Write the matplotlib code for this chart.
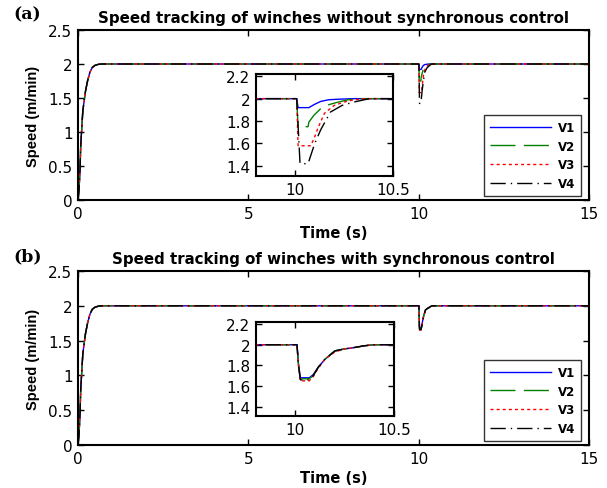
import numpy as np
import matplotlib
matplotlib.use("Agg")
import matplotlib.pyplot as plt

# ── Data ───────────────────────────────────────────────────────────────────
# start-up transient, shared by all winches
t_start = [0, 0.03, 0.06, 0.08, 0.11, 0.14, 0.17, 0.22, 0.28, 0.35, 0.42, 0.5, 0.6, 0.7, 0.8]
v_start = [0, 0.15, 0.45, 0.8, 1.05, 1.3, 1.42, 1.6, 1.75, 1.88, 1.95, 1.98, 1.995, 2.0, 2.0]

# disturbance at t = 10 s, without synchronous control
t_dip_a = {
    "V1": [10.0, 10.008, 10.015, 10.07, 10.1, 10.13, 10.17, 10.22, 10.3],
    "V2": [10.0, 10.008, 10.015, 10.066, 10.07, 10.095, 10.13, 10.17, 10.21, 10.27, 10.35],
    "V3": [10.0, 10.008, 10.015, 10.08, 10.1, 10.117, 10.15, 10.2, 10.25, 10.3, 10.36],
    "V4": [10.0, 10.008, 10.025, 10.066, 10.1, 10.13, 10.18, 10.24, 10.3, 10.38],
}
v_dip_a = {
    "V1": [2.0, 2.0, 1.92, 1.92, 1.95, 1.975, 1.99, 1.995, 2.0],
    "V2": [2.0, 2.0, 1.75, 1.75, 1.79, 1.85, 1.91, 1.945, 1.965, 1.99, 2.0],
    "V3": [2.0, 2.0, 1.58, 1.58, 1.66, 1.74, 1.87, 1.94, 1.97, 1.99, 2.0],
    "V4": [2.0, 2.0, 1.42, 1.42, 1.6, 1.72, 1.88, 1.94, 1.97, 2.0],
}

# disturbance at t = 10 s, with synchronous control
t_dip_b = [10.0, 10.008, 10.015, 10.025, 10.07, 10.09, 10.115, 10.15, 10.2, 10.25, 10.29, 10.35, 10.4]
v_dip_b = {
    "V1": [2.0, 2.0, 1.82, 1.68, 1.68, 1.71, 1.78, 1.86, 1.94, 1.96, 1.97, 1.99, 2.0],
    "V2": [2.0, 2.0, 1.82, 1.67, 1.67, 1.70, 1.78, 1.86, 1.94, 1.96, 1.97, 1.99, 2.0],
    "V3": [2.0, 2.0, 1.80, 1.65, 1.65, 1.69, 1.77, 1.86, 1.93, 1.96, 1.97, 1.99, 2.0],
    "V4": [2.0, 2.0, 1.81, 1.66, 1.66, 1.70, 1.78, 1.86, 1.94, 1.96, 1.97, 1.99, 2.0],
}

t_end = 15.0
names  = ["V1", "V2", "V3", "V4"]
colors = {"V1": "#0000ff", "V2": "#008000", "V3": "#ff0000", "V4": "#000000"}
styles = {"V1": "-", "V2": (0, (18, 6)), "V3": (0, (2.2, 2.2)), "V4": (0, (11, 3.6, 1, 3.6))}

plt.rcParams["font.family"] = ["DejaVu Sans"]

W, H = 607, 489
fig = plt.figure(figsize=(W / 100, H / 100), dpi=100)


def box(l, r, t, b):
    return [l / W, (H - b) / H, (r - l) / W, (b - t) / H]


def series(name, t_dip, v_dip):
    t = t_start + t_dip + [t_end]
    v = v_start + v_dip + [2.0]
    return t, v


def style_axes(ax):
    ax.tick_params(direction="in", top=True, right=True, labelsize=11,
                   length=4, width=1, pad=4)
    for s in ax.spines.values():
        s.set_linewidth(1.5)


def panel(main_box, inset_box, leg_box, title, tag, tag_y, dips):
    ax = fig.add_axes(box(*main_box))
    for n in names:
        t, v = series(n, *dips[n])
        ax.plot(t, v, color=colors[n], linestyle=styles[n], linewidth=1.0, label=n)
    ax.set_xlim(0, 15)
    ax.set_ylim(0, 2.5)
    ax.set_xticks([0, 5, 10, 15])
    ax.set_yticks([0, 0.5, 1, 1.5, 2, 2.5])
    ax.set_yticklabels(["0", "0.5", "1", "1.5", "2", "2.5"])
    style_axes(ax)
    ax.set_xlabel("Time (s)", fontsize=10.5, fontweight="bold", labelpad=3)
    ax.set_ylabel("Speed (m/min)", family=["Liberation Sans", "DejaVu Sans"],
                  fontsize=10.5, fontweight="bold", labelpad=6)
    ax.set_title(title, fontsize=10.8, fontweight="bold", pad=6)
    fig.text(13 / W, 1 - tag_y / H, tag, family=["DejaVu Serif"],
             fontsize=12.5, fontweight="bold", va="center")

    l, r, t, b = leg_box
    leg = ax.legend(loc="center", bbox_to_anchor=((l + r) / 2 / W, 1 - (t + b) / 2 / H),
                    bbox_transform=fig.transFigure, fancybox=False,
                    edgecolor="#333333", framealpha=1, handlelength=5.2,
                    labelspacing=0.5, borderpad=0.5, handletextpad=0.6,
                    borderaxespad=0, prop={"weight": "bold", "size": 8.5})
    leg.get_frame().set_linewidth(1.0)

    ins = fig.add_axes(box(*inset_box))
    for n in names:
        t, v = series(n, *dips[n])
        ins.plot(t, v, color=colors[n], linestyle=styles[n], linewidth=1.0)
    ins.set_xlim(9.8, 10.5)
    ins.set_ylim(1.31, 2.22)
    ins.set_xticks([10, 10.5])
    ins.set_xticklabels(["10", "10.5"])
    ins.set_yticks([1.4, 1.6, 1.8, 2.0, 2.2])
    ins.set_yticklabels(["1.4", "1.6", "1.8", "2", "2.2"])
    style_axes(ins)
    return ax


dips_a = {n: (t_dip_a[n], v_dip_a[n]) for n in names}
dips_b = {n: (t_dip_b, v_dip_b[n]) for n in names}

panel((78, 589, 31, 201), (256, 393, 75, 177), (483, 582, 117, 196),
      "Speed tracking of winches without synchronous control", "(a)", 15, dips_a)
panel((78, 589, 272, 446), (256, 394, 323, 417), (483, 582, 363, 440),
      "Speed tracking of winches with synchronous control", "(b)", 257, dips_b)

fig.savefig("out.png", dpi=100)
